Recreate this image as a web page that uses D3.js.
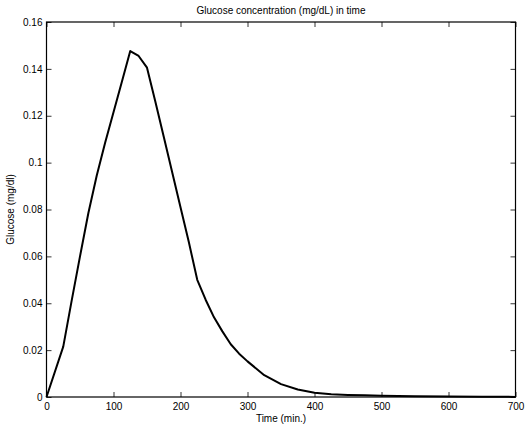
<!DOCTYPE html>
<meta charset="utf-8">
<style>
  body { margin: 0; background: #fff; }
  text { font-family: "Liberation Sans", Arial, sans-serif; font-size: 10px; fill: #000; }
</style>
<svg width="531" height="429"></svg>
<script src="https://d3js.org/d3.v7.min.js"></script>
<script>
// time samples (min.) and glucose (mg/dl)
var time = [0, 25, 37.5, 50, 62.5, 75, 87.5, 100, 112.5, 125, 137.5, 150, 162.5, 175, 187.5, 200, 212.5, 225, 237.5, 250, 262.5, 275, 287.5, 300, 325, 350, 375, 400, 425, 450, 475, 500, 550, 600, 650, 700];
var glucose = [0, 0.0215, 0.041, 0.0600, 0.0785, 0.0945, 0.1085, 0.1215, 0.1345, 0.1476, 0.1455, 0.1405, 0.126, 0.111, 0.096, 0.081, 0.066, 0.050, 0.0415, 0.034, 0.028, 0.0225, 0.0185, 0.0152, 0.0093, 0.0055, 0.0032, 0.0018, 0.0012, 0.0009, 0.0007, 0.0005, 0.0003, 0.0002, 0.0001, 0.00005];
var xTicks = [0, 100, 200, 300, 400, 500, 600, 700];
var yTicks = [0, 0.02, 0.04, 0.06, 0.08, 0.1, 0.12, 0.14, 0.16];

var svg = d3.select("svg"),
    mLeft = 46.5, mRight = 515.5, mTop = 22, mBottom = 397;

var x = d3.scaleLinear().domain([0, 700]).range([mLeft, mRight]);
var y = d3.scaleLinear().domain([0, 0.16]).range([mBottom, mTop]);

var fmt = function(d) { return String(+d.toFixed(2)); };

// bottom and left axes with labels, inward ticks
svg.append("g").attr("transform", "translate(0," + mBottom + ")")
  .call(d3.axisBottom(x).tickValues(xTicks).tickSizeInner(-5).tickSizeOuter(0).tickPadding(4))
  .call(function(g) { g.select(".domain").remove(); g.selectAll("text").attr("y", 4).attr("dy", "0.9em"); });
svg.append("g").attr("transform", "translate(" + mLeft + ",0)")
  .call(d3.axisLeft(y).tickValues(yTicks).tickFormat(fmt).tickSizeInner(-5).tickSizeOuter(0).tickPadding(4))
  .call(function(g) { g.select(".domain").remove(); g.selectAll("text").attr("x", -4); });
// top and right, ticks only
svg.append("g").attr("transform", "translate(0," + mTop + ")")
  .call(d3.axisTop(x).tickValues(xTicks).tickFormat("").tickSizeInner(-5).tickSizeOuter(0))
  .call(function(g) { g.select(".domain").remove(); });
svg.append("g").attr("transform", "translate(" + mRight + ",0)")
  .call(d3.axisRight(y).tickValues(yTicks).tickFormat("").tickSizeInner(-5).tickSizeOuter(0))
  .call(function(g) { g.select(".domain").remove(); });

svg.selectAll(".tick line").attr("stroke", "#000").attr("stroke-width", 0.8);
svg.selectAll(".tick text").style("font-size", "10px").attr("fill", "#000");

// axes box
svg.append("rect")
  .attr("x", mLeft).attr("y", mTop)
  .attr("width", mRight - mLeft).attr("height", mBottom - mTop)
  .attr("fill", "none").attr("stroke", "#000").attr("stroke-width", 1.2);

// curve
var line = d3.line()
  .x(function(d, i) { return x(time[i]); })
  .y(function(d) { return y(d); });
svg.append("path")
  .datum(glucose)
  .attr("d", line)
  .attr("fill", "none")
  .attr("stroke", "#000")
  .attr("stroke-width", 2)
  .attr("stroke-linejoin", "round");

// titles
svg.append("text").attr("x", (mLeft + mRight) / 2).attr("y", 14)
  .attr("text-anchor", "middle").text("Glucose concentration (mg/dL) in time");
svg.append("text").attr("x", (mLeft + mRight) / 2).attr("y", 422)
  .attr("text-anchor", "middle").text("Time (min.)");
svg.append("text").attr("transform", "translate(14," + (mTop + mBottom) / 2 + ") rotate(-90)")
  .attr("text-anchor", "middle").text("Glucose (mg/dl)");
</script>
